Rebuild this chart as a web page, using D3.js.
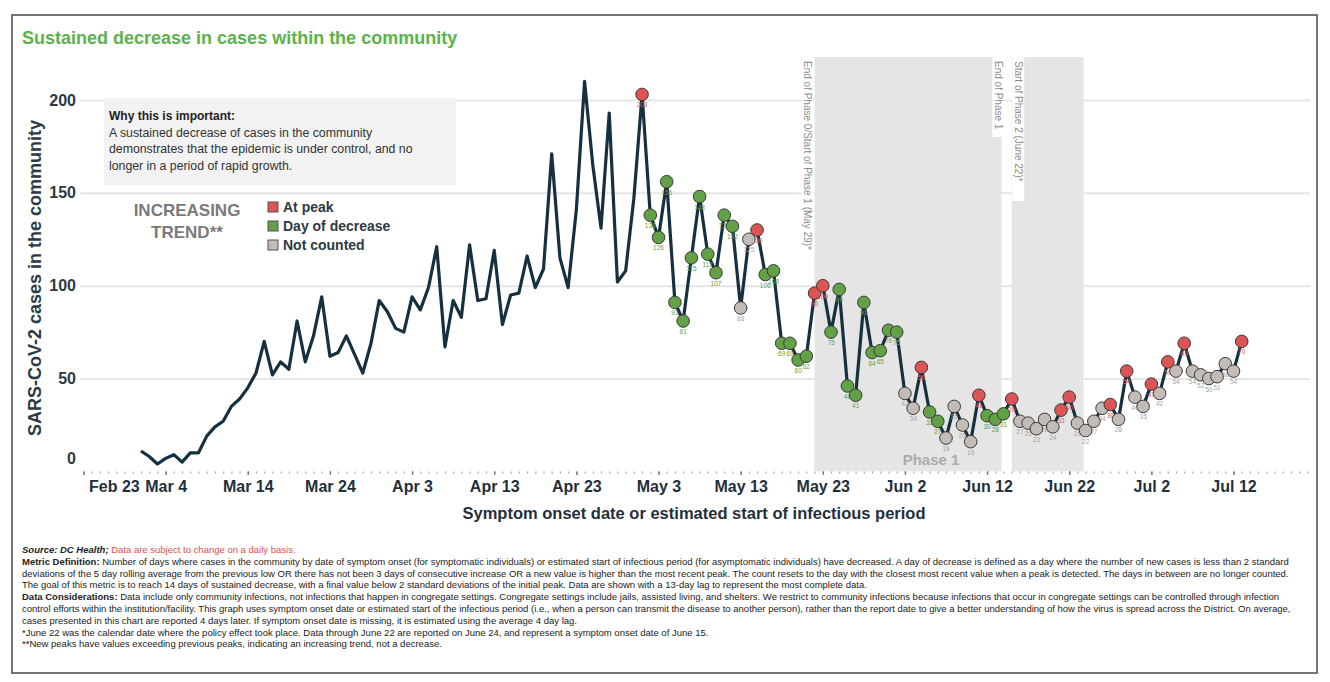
<!DOCTYPE html>
<html>
<head>
<meta charset="utf-8">
<script src="https://cdn.jsdelivr.net/npm/d3@7"></script>
<style>
  html, body { margin: 0; padding: 0; background: #fff; }
  svg { display: block; font-family: "Liberation Sans", Arial, sans-serif; }
</style>
</head>
<body>
<svg id="chart" width="1330" height="682"></svg>
<script>
// ---------------- DATA ----------------
const firstDate = "2020-03-01";
// daily cases (symptom onset), Mar 1 .. Jul 13
const cases = [
  11, 8, 4, 7, 9, 5, 10, 10, 19, 24, 27, 35, 39, 45, 53, 70, 52, 59, 55, 81, 59, 73, 94, 62, 64, 73, 63, 53, 69, 92, 86,
  77, 75, 94, 87, 99, 121, 67, 92, 83, 122, 92, 93, 119, 79, 95, 96, 116, 99, 109, 171, 115, 99, 141, 210, 165, 131, 193, 102, 108, 147,
  203, 138, 126, 156, 91, 81, 115, 148, 117, 107, 138, 132, 88, 125, 130, 106, 108, 69, 69, 60, 62, 96, 100, 75, 98, 46, 41, 91, 64, 65, 76,
  75, 42, 34, 56, 32, 27, 18, 35, 25, 16, 41, 30, 28, 31, 39, 27, 26, 23, 28, 24, 33, 40, 26, 22, 27, 34, 36, 28, 54, 40,
  35, 47, 42, 59, 54, 69, 54, 52, 50, 51, 58, 54, 70
];
// status of each day from May 1 on: P = at peak, D = day of decrease, N = not counted
const statusStart = "2020-05-01";
const status = [
  "P","D","D","D","D","D","D","D","D","D","D","D","N","N","P","D","D","D","D","D","D","P","P","D","D","D","D","D","D","D","D","D",
  "N","N","P","D","D","N","N","N","N","P","D","D","D","P","N","N","N","N","N","P","P","N","N","N","N","P","N","P","N",
  "N","P","N","P","N","P","N","N","N","N","N","N","P"
];
const statusNames = { P: "At peak", D: "Day of decrease", N: "Not counted" };
const statusColors = { P: "#dc5454", D: "#62a146", N: "#c3bbb6" };
const labelColors = { P: "#e05a5a", D: "#62a146", N: "#a9a29e" };

const tickDates = ["2020-02-23","2020-03-04","2020-03-14","2020-03-24","2020-04-03","2020-04-13","2020-04-23","2020-05-03",
                   "2020-05-13","2020-05-23","2020-06-02","2020-06-12","2020-06-22","2020-07-02","2020-07-12"];
const tickLabels = ["Feb 23","Mar 4","Mar 14","Mar 24","Apr 3","Apr 13","Apr 23","May 3","May 13","May 23","Jun 2","Jun 12","Jun 22","Jul 2","Jul 12"];
const yTicks = [0, 50, 100, 150, 200];

const phaseBands = [
  { from: "2020-05-22T00:00", to: "2020-06-13T18:00" },
  { from: "2020-06-15T00:00", to: "2020-06-23T18:00" }
];
const phaseNotes = [
  { date: "2020-05-21T04:00", text: "End of Phase 0/Start of Phase 1 (May 29)*", len: 192 },
  { date: "2020-06-13T09:00", text: "End of Phase 1", len: 72 },
  { date: "2020-06-15T19:00", text: "Start of Phase 2 (June 22)*", len: 136 }
];

const infoLines = [
  "A sustained decrease of cases in the community",
  "demonstrates that the epidemic is under control, and no",
  "longer in a period of rapid growth."
];

const footer = [
  [{ t: "Source: DC Health;", b: true, i: true }, { t: " Data are subject to change on a daily basis.", c: "#e0504f" }],
  [{ t: "Metric Definition:", b: true }, { t: " Number of days where cases in the community by date of symptom onset (for symptomatic individuals) or estimated start of infectious period (for asymptomatic individuals) have decreased. A day of decrease is defined as a day where the number of new cases is less than 2 standard" }],
  [{ t: "deviations of the 5 day rolling average from the previous low OR there has not been 3 days of consecutive increase OR a new value is higher than the most recent peak. The count resets to the day with the closest most recent value when a peak is detected. The days in between are no longer counted." }],
  [{ t: "The goal of this metric is to reach 14 days of sustained decrease, with a final value below 2 standard deviations of the initial peak. Data are shown with a 13-day lag to represent the most complete data." }],
  [{ t: "Data Considerations:", b: true }, { t: " Data include only community infections, not infections that happen in congregate settings. Congregate settings include jails, assisted living, and shelters. We restrict to community infections because infections that occur in congregate settings can be controlled through infection" }],
  [{ t: "control efforts within the institution/facility. This graph uses symptom onset date or estimated start of the infectious period (i.e., when a person can transmit the disease to another person), rather than the report date to give a better understanding of how the virus is spread across the District. On average," }],
  [{ t: "cases presented in this chart are reported 4 days later. If symptom onset date is missing, it is estimated using the average 4 day lag." }],
  [{ t: "*June 22 was the calendar date where the policy effect took place. Data through June 22 are reported on June 24, and represent a symptom onset date of June 15." }],
  [{ t: "**New peaks have values exceeding previous peaks, indicating an increasing trend, not a decrease." }]
];

// ---------------- CHART ----------------
const svg = d3.select("#chart");
const parseDay = d3.utcParse("%Y-%m-%d");
const parseDT = d3.utcParse("%Y-%m-%dT%H:%M");

const x = d3.scaleUtc()
  .domain([parseDay("2020-02-23"), parseDay("2020-07-12")])
  .range([83.5, 1233.5]);
const y = d3.scaleLinear().domain([0, 200]).range([471.4, 100]);
const plotLeft = 80, plotRight = 1310, plotTop = 57;

const d0 = parseDay(firstDate);
const s0 = parseDay(statusStart);
const data = cases.map((v, i) => {
  const date = d3.utcDay.offset(d0, i);
  const si = d3.utcDay.count(s0, date);
  return { date, value: v, status: si >= 0 ? status[si] : null };
});

// frame
svg.append("rect").attr("x", 12).attr("y", 15).attr("width", 1305).attr("height", 658)
  .attr("fill", "#fff").attr("stroke", "#4a4a4a").attr("stroke-width", 1.5);

// title
svg.append("text").attr("x", 22).attr("y", 44).attr("fill", "#5cb24a")
  .attr("font-size", 18).attr("font-weight", "bold")
  .text("Sustained decrease in cases within the community");

// phase bands
svg.append("g").selectAll("rect").data(phaseBands).join("rect")
  .attr("x", d => x(parseDT(d.from)))
  .attr("width", d => x(parseDT(d.to)) - x(parseDT(d.from)))
  .attr("y", plotTop).attr("height", y(0) - plotTop)
  .attr("fill", "#e5e5e5");

// y gridlines + labels
const yAxis = d3.axisLeft(y).tickValues(yTicks).tickSize(-(plotRight - plotLeft)).tickPadding(4);
const gy = svg.append("g").attr("transform", `translate(${plotLeft},0)`).call(yAxis);
gy.select(".domain").remove();
gy.selectAll(".tick line").attr("stroke", "#e6e6e6").attr("stroke-width", 2)
  .filter(d => d === 0).remove();
gy.selectAll(".tick text").attr("font-size", 16).attr("font-weight", "bold")
  .attr("fill", "#2c3a44").attr("font-family", "Liberation Sans, Arial, sans-serif")
  .attr("x", -4)
  .attr("dy", d => d === 0 ? "-0.5em" : "0.32em");

// phase notes (vertical)
const notes = svg.append("g");
phaseNotes.forEach(n => {
  const px = x(parseDT(n.date));
  notes.append("rect").attr("x", px - 6).attr("y", plotTop).attr("width", 12).attr("height", n.len + 8).attr("fill", "#fff");
  notes.append("text").attr("transform", `translate(${px},${plotTop + 4}) rotate(90)`)
    .attr("dominant-baseline", "central").attr("font-size", 10).attr("fill", "#8a8a8a")
    .text(n.text);
});

// "Phase 1" label
svg.append("text").attr("x", 931).attr("y", 465).attr("text-anchor", "middle")
  .attr("font-size", 15).attr("font-weight", "bold").attr("fill", "#ababab").text("Phase 1");

// x axis: daily minor ticks
const minorDays = d3.utcDay.range(parseDay("2020-02-23"), parseDay("2020-07-22"));
const gxMinor = svg.append("g").attr("transform", `translate(0,${y(0)})`)
  .call(d3.axisBottom(x).tickValues(minorDays).tickSize(2).tickFormat(""));
gxMinor.select(".domain").remove();
gxMinor.selectAll(".tick line").attr("stroke", "#a8a8a8").attr("stroke-width", 1.2);

const gx = svg.append("g").attr("transform", `translate(0,${y(0)})`)
  .call(d3.axisBottom(x).tickValues(tickDates.map(parseDay)).tickSize(3.5).tickPadding(6)
    .tickFormat((d, i) => tickLabels[i]));
gx.select(".domain").remove();
gx.selectAll(".tick line").attr("stroke", "#777").attr("stroke-width", 1.5);
gx.selectAll(".tick text").attr("font-size", 16).attr("font-weight", "bold")
  .attr("fill", "#1f2f3c").attr("font-family", "Liberation Sans, Arial, sans-serif");
gx.selectAll(".tick text").filter((d, i) => i === 0).attr("text-anchor", "start").attr("x", 5);

// axis titles
svg.append("text").attr("x", 694).attr("y", 519).attr("text-anchor", "middle")
  .attr("font-size", 16.5).attr("font-weight", "bold").attr("fill", "#1f2f3c")
  .text("Symptom onset date or estimated start of infectious period");
svg.append("text").attr("transform", "translate(41,278) rotate(-90)").attr("text-anchor", "middle")
  .attr("font-size", 18).attr("font-weight", "bold").attr("fill", "#2c3a44")
  .text("SARS-CoV-2 cases in the community");

// info box
svg.append("rect").attr("x", 104).attr("y", 98).attr("width", 352).attr("height", 87).attr("fill", "#f2f2f2");
svg.append("text").attr("x", 109).attr("y", 120).attr("font-size", 12).attr("font-weight", "bold")
  .attr("fill", "#222").text("Why this is important:");
svg.append("g").selectAll("text").data(infoLines).join("text")
  .attr("x", 109).attr("y", (d, i) => 136.5 + i * 16.5).attr("font-size", 12.3).attr("fill", "#333").text(d => d);

// increasing trend + legend
svg.append("text").attr("x", 187).attr("y", 216).attr("text-anchor", "middle").attr("font-size", 17)
  .attr("font-weight", "bold").attr("fill", "#7a7a7a").text("INCREASING");
svg.append("text").attr("x", 187).attr("y", 238).attr("text-anchor", "middle").attr("font-size", 17)
  .attr("font-weight", "bold").attr("fill", "#7a7a7a").text("TREND**");
const legend = svg.append("g").selectAll("g").data(["P", "D", "N"]).join("g")
  .attr("transform", (d, i) => `translate(268,${202 + i * 19})`);
legend.append("rect").attr("width", 10).attr("height", 10).attr("fill", d => statusColors[d])
  .attr("stroke", "#555").attr("stroke-width", 1);
legend.append("text").attr("x", 15).attr("y", 9.5).attr("font-size", 14).attr("font-weight", "bold")
  .attr("fill", "#2c3a44").text(d => statusNames[d]);

// line
const line = d3.line().x(d => x(d.date)).y(d => y(d.value));
svg.append("path").datum(data).attr("d", line).attr("fill", "none")
  .attr("stroke", "#16303f").attr("stroke-width", 3.2).attr("stroke-linejoin", "round");

// points & labels
const pts = data.filter(d => d.status);
svg.append("g").selectAll("text").data(pts).join("text")
  .attr("x", d => x(d.date)).attr("y", d => y(d.value) + 13).attr("text-anchor", "middle")
  .attr("font-size", 6.5).attr("fill", d => labelColors[d.status]).text(d => d.value);
svg.append("g").selectAll("circle").data(pts).join("circle")
  .attr("cx", d => x(d.date)).attr("cy", d => y(d.value)).attr("r", 6.3)
  .attr("fill", d => statusColors[d.status]).attr("stroke", "#3a3a3a").attr("stroke-width", 1);

// footer
const ft = svg.append("g").selectAll("text").data(footer).join("text")
  .attr("x", 22).attr("y", (d, i) => 553 + i * 11.8).attr("font-size", 9.5).attr("fill", "#222");
ft.selectAll("tspan").data(d => d).join("tspan")
  .attr("font-weight", d => d.b ? "bold" : null)
  .attr("font-style", d => d.i ? "italic" : null)
  .attr("fill", d => d.c || null)
  .text(d => d.t);
</script>
</body>
</html>
